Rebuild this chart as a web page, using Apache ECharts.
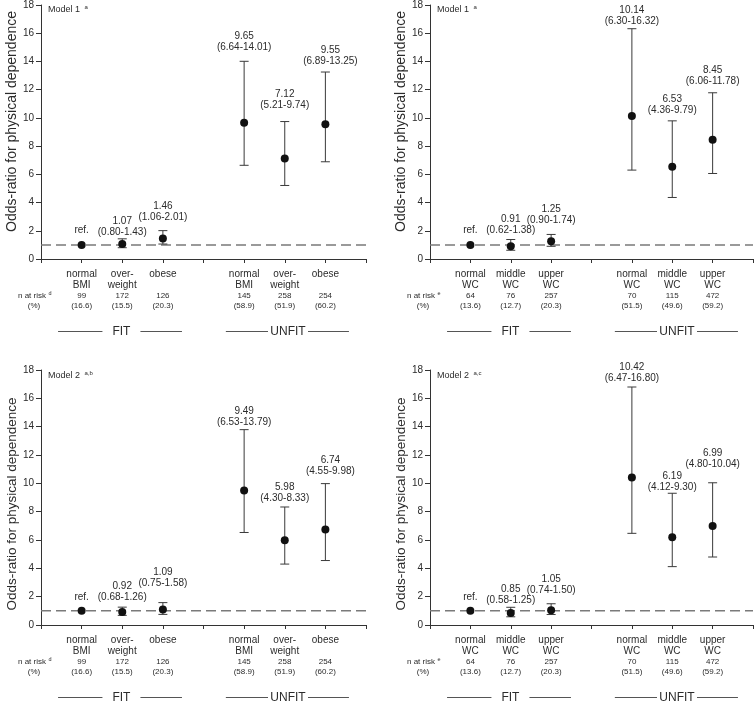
<!DOCTYPE html>
<html><head><meta charset="utf-8">
<script src="https://cdn.jsdelivr.net/npm/echarts@6/dist/echarts.min.js"></script>
<style>html,body{margin:0;padding:0;background:#fff}#c{width:756px;height:702px}</style>
</head><body><div id="c"></div>
<script>
const FONT = '"Liberation Sans", Arial, sans-serif';

// ---------- data ----------
const xSlots = [1, 2, 3, 5, 6, 7];
const bmiNames = ['normal\nBMI', 'over-\nweight', 'obese', 'normal\nBMI', 'over-\nweight', 'obese'];
const wcNames = ['normal\nWC', 'middle\nWC', 'upper\nWC', 'normal\nWC', 'middle\nWC', 'upper\nWC'];
const bmiN = [99, 172, 126, 145, 258, 254];
const bmiPct = ['16.6', '15.5', '20.3', '58.9', '51.9', '60.2'];
const wcN = [64, 76, 257, 70, 115, 472];
const wcPct = ['13.6', '12.7', '20.3', '51.5', '49.6', '59.2'];

const m1BmiOR = [1, 1.07, 1.46, 9.65, 7.12, 9.55];
const m1BmiLo = [null, 0.80, 1.06, 6.64, 5.21, 6.89];
const m1BmiHi = [null, 1.43, 2.01, 14.01, 9.74, 13.25];

const m1WcOR = [1, 0.91, 1.25, 10.14, 6.53, 8.45];
const m1WcLo = [null, 0.62, 0.90, 6.30, 4.36, 6.06];
const m1WcHi = [null, 1.38, 1.74, 16.32, 9.79, 11.78];

const m2BmiOR = [1, 0.92, 1.09, 9.49, 5.98, 6.74];
const m2BmiLo = [null, 0.68, 0.75, 6.53, 4.30, 4.55];
const m2BmiHi = [null, 1.26, 1.58, 13.79, 8.33, 9.98];

const m2WcOR = [1, 0.85, 1.05, 10.42, 6.19, 6.99];
const m2WcLo = [null, 0.58, 0.74, 6.47, 4.12, 4.80];
const m2WcHi = [null, 1.25, 1.50, 16.80, 9.30, 10.04];

const yTicks = [0, 2, 4, 6, 8, 10, 12, 14, 16, 18];
const refOR = 1;
const groupNames = ['FIT', 'UNFIT'];

// ---------- layout (pixels) ----------
const grids = [
  {left: 41, top: 4, width: 325, height: 255},
  {left: 430, top: 4, width: 325, height: 255},
  {left: 41, top: 370, width: 325, height: 255},
  {left: 430, top: 370, width: 325, height: 255}
];
// axis-title centre (offset from grid top) and font size per panel
const titleCentre = [117.5, 117.5, 134, 134];
const titleSize = [14, 14, 13.5, 13.5];
// distance of label's lower line centre above the upper CI cap (px), and x shift
const labelLift = [
  [15, 6.4, 13.8, 13.8, 16.3, 11.2],
  [15, 9.4, 14.3, 7.7, 11, 12],
  [14, 10.4, 19.3, 7.6, 8.3, 12.6],
  [14, 7, 13.7, 8.7, 6.5, 18.4]
];
const labelShift = [
  [0, 0, 0, 0, 0, 5],
  [0, 0, 0, 0, 0, 0],
  [0, 0, 0, 0, 0, 5],
  [0, 0, 0, 0, 0, 0]
];

const panels = [
  {model: 'Model 1', sup: 'a', or: m1BmiOR, lo: m1BmiLo, hi: m1BmiHi, names: bmiNames, n: bmiN, pct: bmiPct, risk: 'd'},
  {model: 'Model 1', sup: 'a', or: m1WcOR, lo: m1WcLo, hi: m1WcHi, names: wcNames, n: wcN, pct: wcPct, risk: 'e'},
  {model: 'Model 2', sup: 'a,b', or: m2BmiOR, lo: m2BmiLo, hi: m2BmiHi, names: bmiNames, n: bmiN, pct: bmiPct, risk: 'd'},
  {model: 'Model 2', sup: 'a,c', or: m2WcOR, lo: m2WcLo, hi: m2WcHi, names: wcNames, n: wcN, pct: wcPct, risk: 'e'}
];

const TXT = '#2b2b2b';
const AX = '#333';
const BAR = '#3a3a3a';
const fmt = v => v.toFixed(2);

const chart = echarts.init(document.getElementById('c'));

const xAxes = [], yAxes = [], series = [], graphics = [];

panels.forEach((p, gi) => {
  const g = grids[gi];
  xAxes.push({
    type: 'value', gridIndex: gi, min: 0, max: 8, interval: 1,
    axisLine: {lineStyle: {color: AX, width: 1}},
    axisTick: {inside: false, length: 4, lineStyle: {color: AX}},
    splitLine: {show: false},
    axisLabel: {
      margin: 9.5,
      formatter: val => {
        const i = xSlots.indexOf(val);
        if (i < 0) return '';
        const parts = p.names[i].split('\n');
        return '{a|' + parts[0] + '}\n{a|' + (parts[1] || ' ') + '}\n{s|' + p.n[i] + '}\n{s|(' + p.pct[i] + ')}';
      },
      rich: {
        a: {fontSize: 10, lineHeight: 11, color: TXT, fontFamily: FONT},
        s: {fontSize: 8, lineHeight: 10, color: TXT, fontFamily: FONT}
      }
    }
  });
  yAxes.push({
    type: 'value', gridIndex: gi, min: yTicks[0], max: yTicks[yTicks.length - 1], interval: yTicks[1] - yTicks[0],
    axisLine: {show: true, lineStyle: {color: AX, width: 1}},
    axisTick: {show: true, inside: false, length: 5, lineStyle: {color: AX}},
    splitLine: {show: false},
    axisLabel: {margin: 7, fontSize: 10, color: TXT, fontFamily: FONT}
  });

  // dashed reference line at OR = 1
  series.push({
    type: 'line', xAxisIndex: gi, yAxisIndex: gi, symbol: 'none', silent: true, z: 1,
    data: [[0, refOR], [8, refOR]],
    lineStyle: {color: '#7a7a7a', width: 1.5, type: [10, 5]}
  });

  // error bars + points + labels
  const data = xSlots.map((x, i) => [x, p.or[i], p.lo[i] == null ? p.or[i] : p.lo[i], p.hi[i] == null ? p.or[i] : p.hi[i], i]);
  series.push({
    type: 'custom', xAxisIndex: gi, yAxisIndex: gi, z: 3, clip: false,
    encode: {x: 0, y: [1, 2, 3]},
    data: data,
    renderItem: (params, api) => {
      const i = api.value(4);
      const x = api.value(0), v = api.value(1);
      const pt = api.coord([x, v]);
      const ch = [];
      let topY, text;
      if (p.lo[i] != null) {
        const pl = api.coord([x, api.value(2)]);
        const ph = api.coord([x, api.value(3)]);
        const st = {stroke: BAR, lineWidth: 1};
        ch.push({type: 'line', shape: {x1: pt[0], y1: pl[1], x2: pt[0], y2: ph[1]}, style: st});
        ch.push({type: 'line', shape: {x1: pt[0] - 4.5, y1: ph[1], x2: pt[0] + 4.5, y2: ph[1]}, style: st});
        ch.push({type: 'line', shape: {x1: pt[0] - 4.5, y1: pl[1], x2: pt[0] + 4.5, y2: pl[1]}, style: st});
        topY = ph[1];
        text = fmt(v) + '\n(' + fmt(p.lo[i]) + '-' + fmt(p.hi[i]) + ')';
      } else {
        topY = pt[1];
        text = 'ref.';
      }
      ch.push({type: 'circle', shape: {cx: pt[0], cy: pt[1], r: 4}, style: {fill: '#111'}, z2: 5});
      ch.push({type: 'text', style: {
        text: text, x: pt[0] + labelShift[gi][i], y: topY - labelLift[gi][i] + 5.5,
        align: 'center', verticalAlign: 'bottom', fontSize: 10, lineHeight: 11,
        fontFamily: FONT, fill: TXT
      }});
      return {type: 'group', children: ch};
    }
  });

  // annotations
  const axisY = g.top + g.height;
  const ux = xv => g.left + xv / 8 * g.width;
  graphics.push({type: 'text', x: g.left + 7, y: g.top + 5.5, style: {text: p.model, fontSize: 9, fontFamily: FONT, fill: TXT, verticalAlign: 'middle'}});
  graphics.push({type: 'text', x: g.left + 43.5, y: g.top + 3, style: {text: p.sup, fontSize: 6, fontFamily: FONT, fill: TXT, verticalAlign: 'middle'}});
  graphics.push({type: 'text', x: g.left - 29, y: g.top + titleCentre[gi], rotation: Math.PI / 2,
    style: {text: 'Odds-ratio for physical dependence', fontSize: titleSize[gi], fontFamily: FONT, fill: TXT, align: 'center', verticalAlign: 'middle'}});
  graphics.push({type: 'text', x: g.left - 23, y: axisY + 36.5, style: {text: 'n at risk', fontSize: 8, fontFamily: FONT, fill: TXT, verticalAlign: 'middle'}});
  graphics.push({type: 'text', x: g.left + 7.5, y: axisY + 34, style: {text: p.risk, fontSize: 5.5, fontFamily: FONT, fill: TXT, verticalAlign: 'middle'}});
  graphics.push({type: 'text', x: g.left - 7, y: axisY + 46.5, style: {text: '(%)', fontSize: 8, fontFamily: FONT, fill: TXT, align: 'center', verticalAlign: 'middle'}});

  const gy = axisY + 72.5;
  const spans = [[0.42, 3.47, 1.98, 19], [4.55, 7.58, 6.08, 20]];
  spans.forEach((s, k) => {
    const L = ux(s[0]), R = ux(s[1]), C = ux(s[2]), gap = s[3];
    graphics.push({type: 'line', shape: {x1: L, y1: gy, x2: C - gap, y2: gy}, style: {stroke: '#555', lineWidth: 1}});
    graphics.push({type: 'line', shape: {x1: C + gap, y1: gy, x2: R, y2: gy}, style: {stroke: '#555', lineWidth: 1}});
    graphics.push({type: 'text', x: C, y: gy, style: {text: groupNames[k], fontSize: 12, fontFamily: FONT, fill: TXT, align: 'center', verticalAlign: 'middle'}});
  });
});

chart.setOption({
  animation: false,
  backgroundColor: '#fff',
  grid: grids,
  xAxis: xAxes,
  yAxis: yAxes,
  series: series,
  graphic: graphics
});
</script>
</body></html>
